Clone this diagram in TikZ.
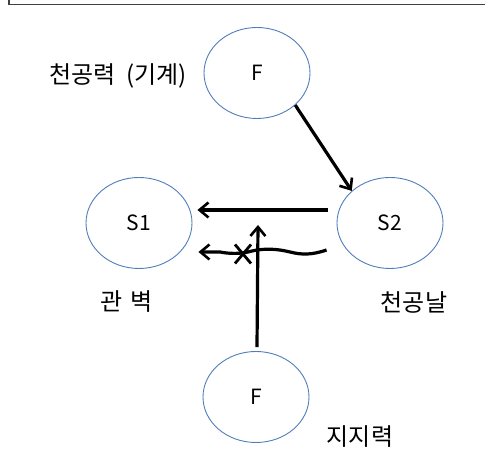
\documentclass[tikz,border=0pt]{standalone}
\usepackage{fontspec}
\setmainfont{Noto Sans CJK KR}
\usetikzlibrary{arrows.meta,shapes.geometric}
\begin{document}
\begin{tikzpicture}[x=1pt,y=1pt,
  blob/.style={ellipse,draw={rgb,255:red,80;green,125;blue,185},line width=0.9pt,minimum width=106pt,minimum height=91pt,inner sep=0pt,font=\fontsize{21}{25}\selectfont},
  lbl/.style={inner sep=0pt,font=\fontsize{24}{28}\selectfont},
  force/.style={line width=3.2pt,-{Straight Barb[length=9pt,width=15pt,line width=2.6pt]}},
  crossmark/.style={line width=2.8pt}
]
\useasboundingbox (0,0) rectangle (485,473);
\draw[line width=1.6pt,black!75] (9,473) -- (9,468.5) -- (485,468.5);
\node[blob] (f1) at (257,400) {F};
\node[blob] (s1) at (139,250) {S1};
\node[blob] (s2) at (390,250) {S2};
\node[blob] (f2) at (256,76) {F};
\node[lbl,anchor=west] (l1) at (49,397) {천공력\hspace{11pt}(기계)};
\node[lbl] (l2) at (127,171) {관\hspace{8pt}벽};
\node[lbl] (l3) at (414,171) {천공날};
\node[lbl] (l4) at (360,36) {지지력};
\draw[force] (f1.-40) -- (s2.140);
\draw[force] ([xshift=-9pt,yshift=13pt]s2.west) -- ([xshift=5pt,yshift=13pt]s1.east);
\draw[force] ([xshift=-10pt,yshift=-27pt]s2.west) .. controls (312,218) and (302,218) .. (290,221)
  .. controls (278,224) and (265,225) .. (252,222)
  .. controls (242,219) and (230,219) .. (220,221) -- ([xshift=6pt,yshift=-29pt]s1.east);
\coordinate (x) at (243,219);
\draw[crossmark] ([shift={(-8,-9.5)}]x) -- ([shift={(8,9.5)}]x);
\draw[crossmark] ([shift={(-8,9.5)}]x) -- ([shift={(8,-9.5)}]x);
\coordinate (tip) at (258,248);
\draw[force] ([xshift=1pt,yshift=4pt]f2.north) -- (tip);
\end{tikzpicture}
\end{document}
